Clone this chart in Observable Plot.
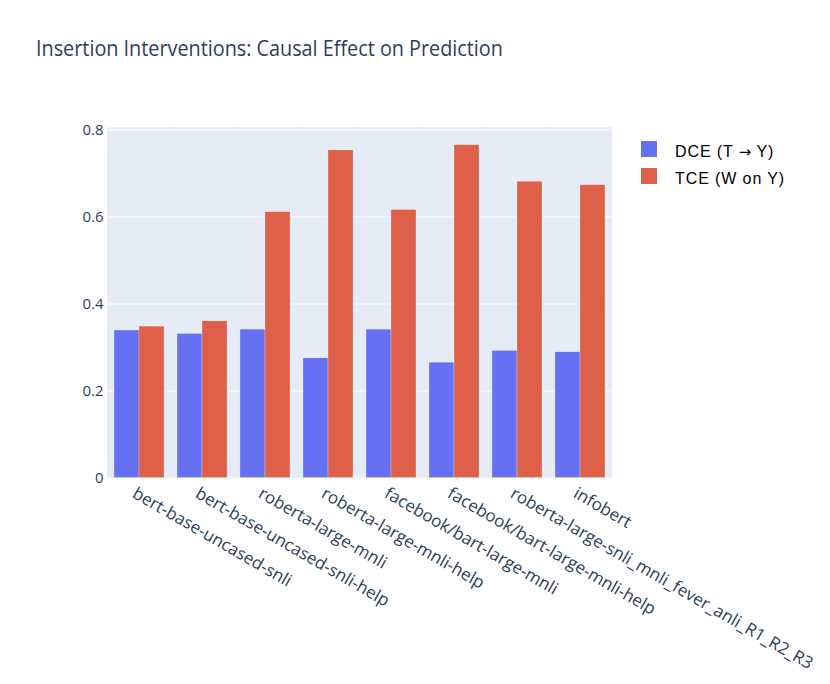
<!DOCTYPE html>
<html><head><meta charset="utf-8">
<script src="https://cdn.jsdelivr.net/npm/d3@7"></script>
<script src="https://cdn.jsdelivr.net/npm/@observablehq/plot@0.6"></script>
<style>
body{margin:0;background:#fff;font-family:"Open Sans",sans-serif;}
#wrap{position:relative;width:830px;height:684px;overflow:hidden;}
#title{position:absolute;left:36px;top:36px;font-size:22px;color:#2a3f5f;white-space:nowrap;line-height:1;transform:scaleX(0.9);transform-origin:left top;}
#chart{position:absolute;left:0;top:80px;}
.leg{position:absolute;left:641px;font-family:"Liberation Sans",Arial,sans-serif;font-size:16px;letter-spacing:0.9px;color:#000;white-space:nowrap;height:16px;}
.leg .sw{position:absolute;left:0;top:0;width:16px;height:16px;}
.leg .tx{position:absolute;left:34px;top:2px;line-height:18px;}
.leg .ar{font-family:"DejaVu Sans",sans-serif;font-size:15px;letter-spacing:0;}
</style></head>
<body>
<div id="wrap">
<div id="title">Insertion Interventions: Causal Effect on Prediction</div>
<div id="chart"></div>
<div id="legend"></div>
</div>
<script>
const models = ["bert-base-uncased-snli","bert-base-uncased-snli-help","roberta-large-mnli","roberta-large-mnli-help","facebook/bart-large-mnli","facebook/bart-large-mnli-help","roberta-large-snli_mnli_fever_anli_R1_R2_R3","infobert"];
const seriesNames = ["DCE (T → Y)", "TCE (W on Y)"];
const dce = [0.339,0.331,0.341,0.275,0.341,0.265,0.292,0.289];
const tce = [0.348,0.360,0.611,0.753,0.616,0.765,0.681,0.673];
const yTicks = [0,0.2,0.4,0.6,0.8];
const colors = ["#6570f3","#de6049"];

const rows = models.flatMap((m,i)=>[
  {model:m, series:seriesNames[0], value:dce[i]},
  {model:m, series:seriesNames[1], value:tce[i]}
]);

const chart = Plot.plot({
  width:830, height:604,
  marginTop:47.3, marginLeft:106, marginRight:219, marginBottom:206.5,
  style:{fontFamily:"'Open Sans',sans-serif", fontSize:"15px", color:"#2a3f5f", background:"transparent", overflow:"visible"},
  fx:{domain:models, padding:0, label:null, axis:null},
  x:{domain:seriesNames, paddingInner:0, paddingOuter:0.25, axis:null},
  y:{domain:[0,0.805], label:null},
  color:{domain:seriesNames, range:colors},
  marks:[
    Plot.frame({fill:"#e5ecf6", stroke:"#e5ecf6", strokeWidth:1}),
    Plot.gridY(yTicks,{stroke:"#fff", strokeOpacity:1, strokeWidth:1}),
    Plot.barY(rows,{fx:"model", x:"series", y:"value", fill:"series", stroke:"#fff", strokeWidth:0.5, strokeOpacity:0.5}),
    Plot.axisY(yTicks,{tickSize:0, tickPadding:4, label:null, tickFormat:d=>d===0?"0":d3.format(".1f")(d)}),
    Plot.axisFx({anchor:"bottom", tickRotate:30, tickSize:0, tickPadding:14, dx:-5, label:null, textAnchor:"start", lineAnchor:"middle", fontSize:17})
  ]
});
document.getElementById("chart").appendChild(chart);

const leg = document.getElementById("legend");
seriesNames.forEach((s,i)=>{
  const d = document.createElement("div");
  d.className="leg";
  d.style.top = (141 + i*26.7) + "px";
  d.innerHTML = `<span class="sw" style="background:${colors[i]}"></span><span class="tx">${s.replace("→",'<span class="ar">→</span>')}</span>`;
  leg.appendChild(d);
});
</script>
</body></html>
